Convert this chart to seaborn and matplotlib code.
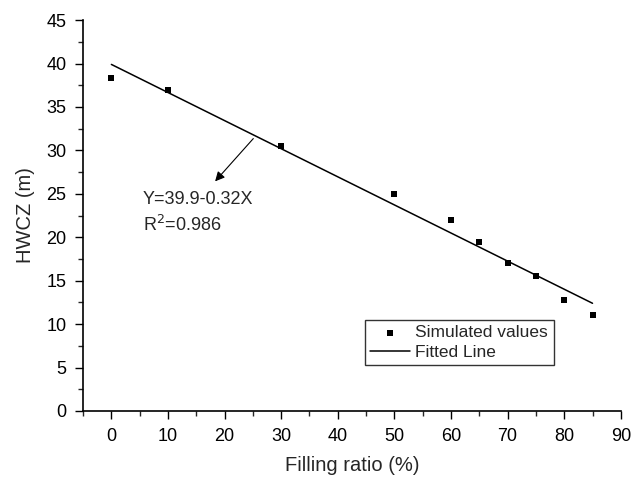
import matplotlib
matplotlib.use("Agg")
import matplotlib.pyplot as plt
import seaborn as sns
import pandas as pd
from matplotlib.ticker import MultipleLocator

sns.set_theme(style="ticks")
plt.rcParams['font.family'] = ['Liberation Sans', 'DejaVu Sans']

filling = [0, 10, 30, 50, 60, 65, 70, 75, 80, 85]
hwcz = [38.3, 37.0, 30.5, 25.0, 22.0, 19.5, 17.0, 15.5, 12.8, 11.0]
fit_x = [0, 85]
fit_y = [39.9, 12.4]

df = pd.DataFrame({"x": filling, "y": hwcz})
fit = pd.DataFrame({"x": fit_x, "y": fit_y})

fig = plt.figure(figsize=(6.44, 4.79), dpi=100)
ax = fig.add_axes([0.129, 0.142, 0.835, 0.816])

sns.scatterplot(data=df, x="x", y="y", marker="s", color="black", s=25,
                edgecolor="black", linewidth=0, ax=ax, label="Simulated values", zorder=3)
sns.lineplot(data=fit, x="x", y="y", color="black", linewidth=1.1, ax=ax,
             label="Fitted Line")

ax.set_xlim(-5, 90)
ax.set_ylim(0, 45)
ax.xaxis.set_major_locator(MultipleLocator(10))
ax.xaxis.set_minor_locator(MultipleLocator(5))
ax.yaxis.set_major_locator(MultipleLocator(5))
ax.yaxis.set_minor_locator(MultipleLocator(2.5))
ax.tick_params(which="major", length=6, width=1, labelsize=13, colors="black",
               direction="out", pad=6)
ax.tick_params(which="minor", length=3.5, width=1, direction="out")
for s in ["top", "right"]:
    ax.spines[s].set_visible(False)
for s in ["left", "bottom"]:
    ax.spines[s].set_color("black")
    ax.spines[s].set_linewidth(1.2)

ax.set_xlabel("Filling ratio (%)", fontsize=14.5, labelpad=8)
ax.set_ylabel("HWCZ (m)", fontsize=14.5, labelpad=8)

ax.annotate("", xy=(18, 26.2), xytext=(25.4, 31.6),
            arrowprops=dict(arrowstyle="-|>", color="black", lw=0.8, mutation_scale=14))
ax.text(5.5, 24.4, "Y=39.9-0.32X", fontsize=13, va="center", ha="left")
ax.text(5.5, 21.4, "R$^2$=0.986", fontsize=13, va="center", ha="left")

leg = ax.legend(loc="lower left", bbox_to_anchor=(0.524, 0.118, 0.351, 0.11),
                mode="expand", fontsize=12.5, frameon=True, fancybox=False,
                borderpad=0.3, handlelength=2.3, labelspacing=0.25, borderaxespad=0,
                handletextpad=0.3)
leg.get_frame().set_edgecolor("black")
leg.get_frame().set_linewidth(1)

fig.savefig("out.png", dpi=100)
